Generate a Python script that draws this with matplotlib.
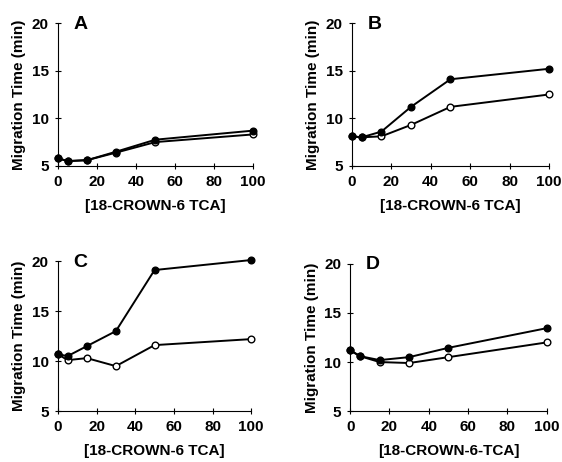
import matplotlib
matplotlib.use("Agg")
import matplotlib.pyplot as plt

plt.rcParams['font.family'] = ['Liberation Sans', 'DejaVu Sans']
plt.rcParams['font.weight'] = 'bold'

conc = [0, 5, 15, 30, 50, 100]

A_filled = [5.8, 5.5, 5.6, 6.5, 7.75, 8.7]
A_open = [5.8, 5.5, 5.6, 6.4, 7.5, 8.3]
B_filled = [8.1, 8.0, 8.6, 11.2, 14.1, 15.2]
B_open = [8.1, 8.0, 8.1, 9.3, 11.2, 12.5]
C_filled = [10.7, 10.5, 11.5, 13.0, 19.1, 20.1]
C_open = [10.7, 10.1, 10.3, 9.5, 11.6, 12.2]
D_filled = [11.2, 10.6, 10.2, 10.5, 11.45, 13.45]
D_open = [11.2, 10.6, 10.0, 9.9, 10.5, 12.0]

panels = [
    ("A", A_filled, A_open, "[18-CROWN-6 TCA]"),
    ("B", B_filled, B_open, "[18-CROWN-6 TCA]"),
    ("C", C_filled, C_open, "[18-CROWN-6 TCA]"),
    ("D", D_filled, D_open, "[18-CROWN-6-TCA]"),
]

positions = [
    [0.103, 0.641, 0.347, 0.309],
    [0.626, 0.641, 0.351, 0.309],
    [0.103, 0.110, 0.344, 0.325],
    [0.623, 0.110, 0.350, 0.319],
]

fig = plt.figure(figsize=(5.62, 4.62), dpi=100)

for (label, filled, opn, xl), pos in zip(panels, positions):
    ax = fig.add_axes(pos)
    ax.plot(conc, opn, '-', color='black', lw=1.4, marker='o', ms=4.8,
            mfc='white', mec='black', mew=1.0, zorder=2, clip_on=False)
    ax.plot(conc, filled, '-', color='black', lw=1.4, marker='o', ms=4.8,
            mfc='black', mec='black', zorder=3, clip_on=False)
    ax.set_xlim(0, 100)
    ax.set_ylim(5, 20)
    ax.set_xticks([0, 20, 40, 60, 80, 100])
    ax.set_yticks([5, 10, 15, 20])
    ax.spines['top'].set_visible(False)
    ax.spines['right'].set_visible(False)
    for s in ('left', 'bottom'):
        ax.spines[s].set_linewidth(0.8)
    ax.tick_params(direction='inout', length=5, width=0.8, labelsize=11, pad=4)
    ax.set_ylabel('Migration Time (min)', fontsize=11, fontweight='bold', labelpad=4)
    ax.set_xlabel(xl, fontsize=11, fontweight='bold', labelpad=7)
    ax.text(0.08, 1.05, label, transform=ax.transAxes, fontsize=14,
            fontweight='bold', va='top', ha='left')
    ax.patch.set_alpha(0)

fig.savefig('out.png', dpi=100)
